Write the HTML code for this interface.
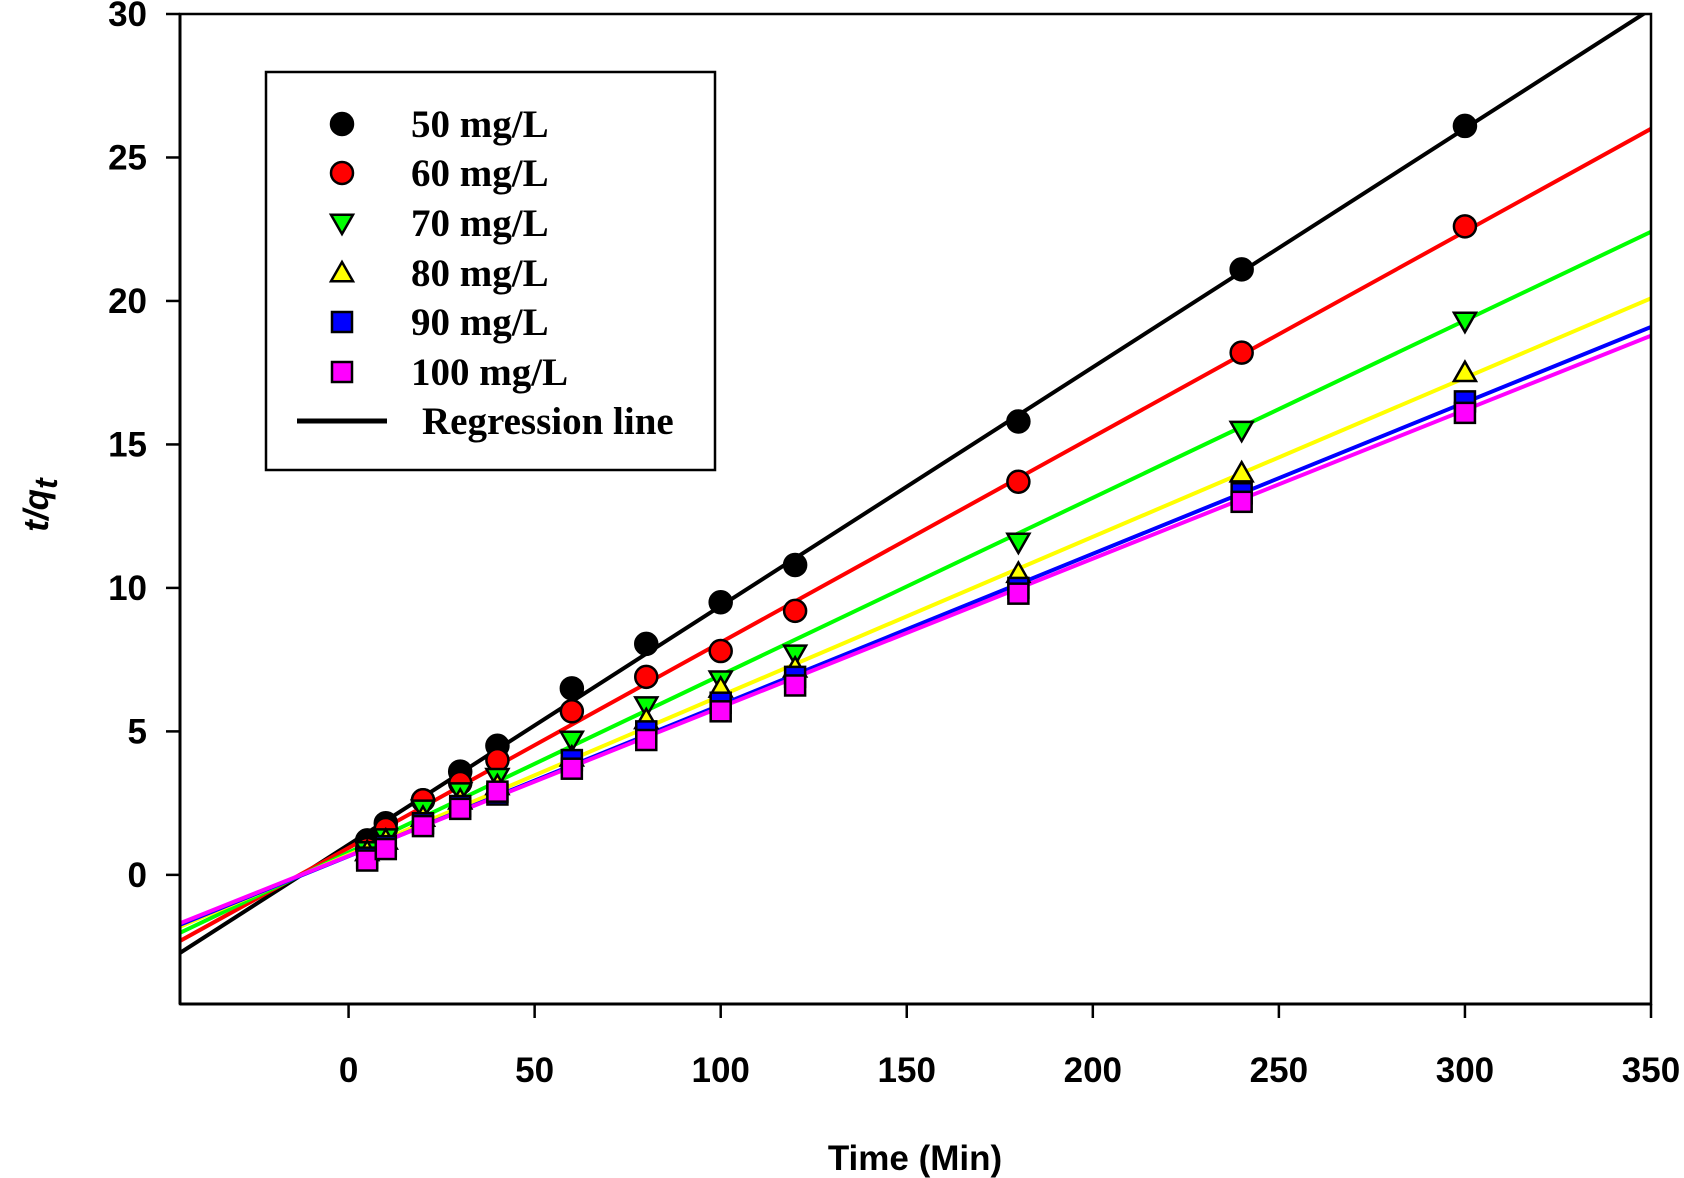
<!DOCTYPE html>
<html><head><meta charset="utf-8"><style>
html,body{margin:0;padding:0;background:#fff}
svg{display:block}
.tick{font-family:"Liberation Sans",sans-serif;font-weight:bold;font-size:35px}
.leg{font-family:"Liberation Serif",serif;font-weight:bold;font-size:39px}
</style></head><body>
<svg id="chart" width="1684" height="1178" viewBox="0 0 1684 1178">
<g id="lines"></g>
<g id="marks"></g>
<g id="axes"></g>
<text class="tick" x="915" y="1170" text-anchor="middle" font-size="40">Time (Min)</text>
<text class="tick" transform="translate(48,505) rotate(-90)" text-anchor="middle" font-size="44" font-style="italic">t/q<tspan font-size="32" dy="9">t</tspan></text>
<g>
<rect x="266" y="72" width="449" height="398" fill="#fff" stroke="#000" stroke-width="2.5"/>
<g id="legend-items"></g>
</g>
</svg>
<script>
const xs=[5,10,20,30,40,60,80,100,120,180,240,300];
const labels=["50 mg/L","60 mg/L","70 mg/L","80 mg/L","90 mg/L","100 mg/L"];
const s50=[1.2,1.8,2.6,3.6,4.5,6.5,8.05,9.5,10.8,15.8,21.1,26.1];
const s60=[0.9,1.6,2.6,3.2,4.0,5.7,6.9,7.8,9.2,13.7,18.2,22.6];
const s70=[0.85,1.3,2.3,2.9,3.4,4.7,5.9,6.8,7.7,11.6,15.5,19.3];
const s80=[0.8,1.2,2.0,2.6,3.1,4.1,5.4,6.5,7.2,10.5,14.0,17.5];
const s90=[0.6,1.0,1.8,2.4,2.8,4.0,5.0,6.0,6.9,10.0,13.3,16.5];
const s100=[0.5,0.9,1.7,2.3,2.9,3.7,4.7,5.7,6.6,9.8,13.0,16.1];
const slopes=[0.0832,0.0716,0.0618,0.0554,0.0527,0.0518];
const intercepts=[1.05,0.94,0.78,0.70,0.65,0.66];
const xTicks=[0,50,100,150,200,250,300,350];
const yTicks=[0,5,10,15,20,25,30];

const NS="http://www.w3.org/2000/svg";
const L=180,R=1651,T=14,B=1004,XMIN=-45.3,XMAX=350,YMIN=-4.5,YMAX=30;
function sx(v){return L+(v-XMIN)/(XMAX-XMIN)*(R-L);}
function sy(v){return B-(v-YMIN)/(YMAX-YMIN)*(B-T);}
function mk(tag,attrs,parent){const e=document.createElementNS(NS,tag);for(const k in attrs)e.setAttribute(k,attrs[k]);parent.appendChild(e);return e;}
const series=[s50,s60,s70,s80,s90,s100];
const colors=["#000000","#ff0000","#00ff00","#ffff00","#0000ff","#ff00ff"];
const shapes=["circle","circle","down","up","square","square"];
const lines=document.getElementById('lines'),marks=document.getElementById('marks'),axes=document.getElementById('axes');

function marker(shape,cx,cy,fill,parent,r){
  let e;
  if(shape==="circle"){e=mk('circle',{cx:cx,cy:cy,r:r,fill:fill,stroke:'#000','stroke-width':2.5},parent);}
  else if(shape==="square"){e=mk('rect',{x:cx-r+1,y:cy-r+1,width:2*r-2,height:2*r-2,fill:fill,stroke:'#000','stroke-width':2.5},parent);}
  else if(shape==="down"){e=mk('polygon',{points:`${cx-r},${cy-r*0.75} ${cx+r},${cy-r*0.75} ${cx},${cy+r}`,fill:fill,stroke:'#000','stroke-width':2.5},parent);}
  else {e=mk('polygon',{points:`${cx-r},${cy+r*0.75} ${cx+r},${cy+r*0.75} ${cx},${cy-r}`,fill:fill,stroke:'#000','stroke-width':2.5},parent);}
  return e;
}

const defs=mk('defs',{},document.getElementById('chart'));
const cp=mk('clipPath',{id:'pc'},defs);mk('rect',{x:L,y:T,width:R-L,height:B-T},cp);
lines.setAttribute('clip-path','url(#pc)');

series.forEach((s,i)=>{
  const x1=XMIN,x2=XMAX;
  const ln=mk('line',{x1:sx(x1),y1:sy(intercepts[i]+slopes[i]*x1),x2:sx(x2),y2:sy(intercepts[i]+slopes[i]*x2),stroke:colors[i],'stroke-width':4},lines);
  
  
});
series.forEach((s,i)=>{
  s.forEach((v,j)=>{
    const m=marker(shapes[i],sx(xs[j]),sy(v),colors[i],marks,11);
    
    
  });
});
mk('rect',{x:L,y:T,width:R-L,height:B-T,fill:'none',stroke:'#000','stroke-width':2.5},axes);
mk('line',{x1:L,y1:B,x2:R,y2:B,stroke:'#000','stroke-width':3},axes);
mk('line',{x1:L,y1:T,x2:L,y2:B,stroke:'#000','stroke-width':3},axes);
xTicks.forEach(v=>{
  const x=sx(v);
  mk('line',{x1:x,y1:B,x2:x,y2:B+14,stroke:'#000','stroke-width':2.5},axes);
  const t=mk('text',{x:x,y:1082,'text-anchor':'middle',class:'tick'},axes);t.textContent=v;
  
  
});
yTicks.forEach(v=>{
  const y=sy(v);
  mk('line',{x1:L-14,y1:y,x2:L,y2:y,stroke:'#000','stroke-width':2.5},axes);
  const t=mk('text',{x:147,y:y+12,'text-anchor':'end',class:'tick'},axes);t.textContent=v;
  
  
});
const lg=document.getElementById('legend-items');
const rows=[124,173,223,273,322,372];
labels.forEach((lab,i)=>{
  const g=mk('g',{},lg);
  
  
  marker(shapes[i],342,rows[i],colors[i],g,11);
  const t=mk('text',{x:411,y:rows[i]+13,class:'leg'},g);t.textContent=lab;
});
const rg=mk('g',{},lg);


mk('line',{x1:297,y1:421,x2:387,y2:421,stroke:'#000','stroke-width':5},rg);
const rt=mk('text',{x:422,y:434,class:'leg'},rg);rt.textContent="Regression line";
</script>
</body></html>
